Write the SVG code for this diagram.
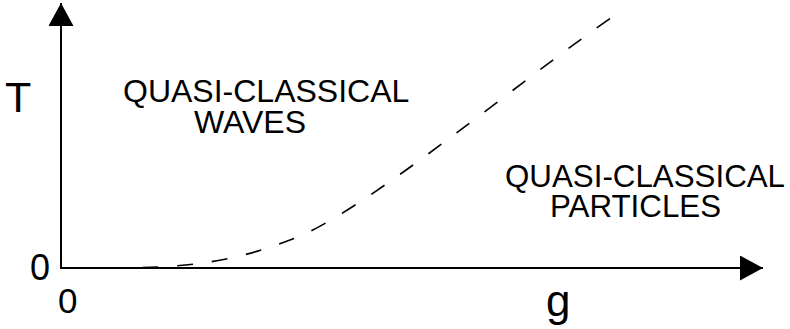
<svg xmlns="http://www.w3.org/2000/svg" width="790" height="329" viewBox="0 0 790 329">
<style>
text{font-family:"Liberation Sans",Arial,sans-serif;fill:#000}
.axis{stroke:#000;stroke-width:2;fill:none}
.curve{stroke:#000;stroke-width:1.6;fill:none;stroke-dasharray:16 19}
.lbl{font-size:32px}
</style>
<defs>
<marker id="arr" viewBox="0 0 23 25" refX="23" refY="12.5" markerWidth="23" markerHeight="25" markerUnits="userSpaceOnUse" orient="auto">
<path d="M0,0 L23,12.5 L0,25 Z" fill="#000"/>
</marker>
</defs>
<g id="connectors">
<line id="y-axis" class="axis" x1="61" y1="269" x2="61" y2="3" marker-end="url(#arr)"/>
<line id="x-axis" class="axis" x1="60" y1="268" x2="763" y2="268" marker-end="url(#arr)"/>
<path id="boundary" class="curve" d="M107,268 C190,268 232,262 290,240 C360,216 520,80 618,13"/>
</g>
<g id="axis-labels">
<text x="5" y="112" style="font-size:43px">T</text>
<text x="30" y="280" style="font-size:36px">0</text>
<text x="58" y="313" style="font-size:35px">0</text>
<text x="546" y="316" style="font-size:44px">g</text>
</g>
<g id="waves">
<text class="lbl" x="123" y="102">QUASI-CLASSICAL</text>
<text class="lbl" x="194" y="133">WAVES</text>
</g>
<g id="particles">
<text class="lbl" x="505" y="187" style="font-size:31.3px">QUASI-CLASSICAL</text>
<text class="lbl" x="550" y="217" style="font-size:31.3px">PARTICLES</text>
</g>
</svg>
